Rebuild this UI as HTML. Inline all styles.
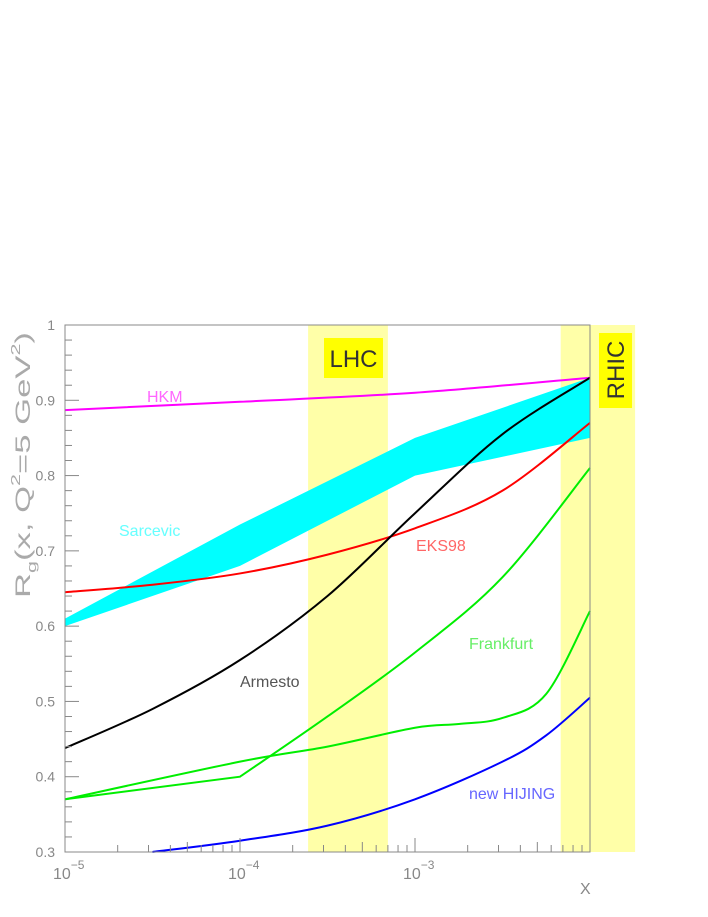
<!DOCTYPE html>
<html><head><meta charset="utf-8"><style>
html,body{margin:0;padding:0;background:#fff}
svg{display:block;font-family:"Liberation Sans",sans-serif}
</style></head><body>
<svg id="chart" width="708" height="917" viewBox="0 0 708 917" xmlns="http://www.w3.org/2000/svg">
<g id="bands"></g>
<g id="plot"></g>
<g id="axes"></g>
<g id="labels"></g>
</svg>
<script>
const yTicks=["0.3","0.4","0.5","0.6","0.7","0.8","0.9","1"];
const xTickExp=[-5,-4,-3];
const regions=["LHC","RHIC"];
const regionLo=[2.45e-4,6.8e-3];
const regionHi=[7.0e-4,0.0181];
const hkmX=[-5,-4,-3,-2];
const hkmY=[0.887,0.898,0.91,0.93];
const sarX=[-5,-4,-3,-2];
const sarUp=[0.61,0.735,0.85,0.93];
const sarLo=[0.60,0.68,0.80,0.85];
const eksX=[-5,-4.5,-4,-3.5,-3,-2.5,-2];
const eksY=[0.645,0.655,0.67,0.695,0.73,0.78,0.87];
const armX=[-5,-4.5,-4,-3.5,-3,-2.5,-2];
const armY=[0.438,0.49,0.555,0.64,0.75,0.855,0.93];
const fr1X=[-5,-4,-3.5,-3,-2.5,-2];
const fr1Y=[0.37,0.40,0.48,0.565,0.665,0.81];
const fr2X=[-5,-4,-3.5,-3,-2.75,-2.5,-2.25,-2];
const fr2Y=[0.37,0.42,0.44,0.465,0.47,0.478,0.51,0.62];
const hijX=[-4.5,-4,-3.5,-3,-2.5,-2.25,-2];
const hijY=[0.30,0.315,0.335,0.37,0.42,0.455,0.505];

const L=65,R=590,T=325,B=852;
const xs=lx=>L+(lx+5)/3*(R-L);
const ys=v=>B-(v-0.3)/0.7*(B-T);
const NS="http://www.w3.org/2000/svg";
function mk(tag,attrs,parent){const e=document.createElementNS(NS,tag);for(const k in attrs)e.setAttribute(k,attrs[k]);parent.appendChild(e);return e;}
const bands=document.getElementById('bands'),plot=document.getElementById('plot'),axes=document.getElementById('axes'),labels=document.getElementById('labels');

regions.forEach((r,i)=>{
  const x0=xs(Math.log10(regionLo[i])),x1=xs(Math.log10(regionHi[i]));
  const b=mk('rect',{x:x0,y:T,width:x1-x0,height:B-T,fill:'#ffffa8'},bands);
  
  
});
let g=mk('g',{},labels);


mk('rect',{x:324,y:338,width:59,height:40,fill:'#ffff00'},g);
let t=mk('text',{x:353.5,y:367,'text-anchor':'middle','font-size':'24',fill:'#333'},g);t.textContent='LHC';
g=mk('g',{},labels);


mk('rect',{x:599,y:333,width:33,height:75,fill:'#ffff00'},g);
t=mk('text',{x:624,y:370,'text-anchor':'middle','font-size':'24',fill:'#333',transform:'rotate(-90 624 370)'},g);t.textContent='RHIC';

let d='';
sarX.forEach((x,i)=>d+=(i?'L':'M')+xs(x)+','+ys(sarUp[i]));
for(let i=sarX.length-1;i>=0;i--)d+='L'+xs(sarX[i])+','+ys(sarLo[i]);
const sb=mk('path',{d:d+'Z',fill:'#00ffff'},plot);



function curve(X,Y,color,name,kink){
  const P=X.map((x,i)=>[xs(x),ys(Y[i])]);
  let d='M'+P[0][0]+','+P[0][1];
  for(let i=0;i<P.length-1;i++){
    if(kink!==undefined&&i<kink){d+='L'+P[i+1][0]+','+P[i+1][1];continue;}
    const p0=(i===kink?P[i]:P[i-1])||P[i],p1=P[i],p2=P[i+1],p3=P[i+2]||p2;
    d+='C'+(p1[0]+(p2[0]-p0[0])/6)+','+(p1[1]+(p2[1]-p0[1])/6)+' '+(p2[0]-(p3[0]-p1[0])/6)+','+(p2[1]-(p3[1]-p1[1])/6)+' '+p2[0]+','+p2[1];
  }
  const e=mk('path',{d:d,fill:'none',stroke:color,'stroke-width':2},plot);
  
  
}
curve(hkmX,hkmY,'#ff00ff','hkm-curve');
curve(eksX,eksY,'#ff0000','eks98-curve');
curve(armX,armY,'#000000','armesto-curve');
curve(fr1X,fr1Y,'#00ee00','frankfurt-curve-upper',1);
curve(fr2X,fr2Y,'#00ee00','frankfurt-curve-lower');
curve(hijX,hijY,'#0000ff','hijing-curve');

const fr=mk('rect',{x:L,y:T,width:R-L,height:B-T,fill:'none',stroke:'#888','stroke-width':1},axes);


for(let i=0;i<=35;i++){
  const v=0.3+i*0.02,y=ys(v),maj=i%5===0;
  mk('line',{x1:L,y1:y,x2:L+(maj?14:7),y2:y,stroke:'#888'},axes);
}
yTicks.forEach(s=>{
  const e=mk('text',{x:55,y:ys(parseFloat(s))+5,'text-anchor':'end','font-size':'14',fill:'#888'},axes);
  e.textContent=s;
  
  
});
for(let dec=-5;dec<-2;dec++){
  for(let m=1;m<=9;m++){
    const x=xs(dec+Math.log10(m));
    const len=m===1?14:(m===5?10:7);
    mk('line',{x1:x,y1:B,x2:x,y2:B-len,stroke:'#888'},axes);
  }
}
xTickExp.forEach(e=>{
  const tx=mk('text',{x:xs(e)-12,y:879,'font-size':'16',fill:'#888'},axes);
  
  
  tx.textContent='10';
  const sp=document.createElementNS(NS,'tspan');sp.setAttribute('dy','-10');sp.setAttribute('font-size','12');sp.textContent=String(e).replace('-','\u2212');tx.appendChild(sp);
});
t=mk('text',{x:580,y:894,'font-size':'16',fill:'#888'},axes);t.textContent='X';


t=mk('text',{x:0,y:0,'font-size':'21',fill:'#aaa',transform:'translate(30,598) rotate(-90)',textLength:'266',lengthAdjust:'spacingAndGlyphs'},axes);


t.innerHTML='R<tspan font-size="13" dy="6">g</tspan><tspan dy="-6">(x, Q</tspan><tspan font-size="13" dy="-10">2</tspan><tspan dy="10">=5 GeV</tspan><tspan font-size="13" dy="-10">2</tspan><tspan dy="10">)</tspan>';

const labs=[['HKM',147,402,'#ff66ff'],['Sarcevic',119,536,'#66ffff'],['EKS98',416,551,'#ff6666'],['Frankfurt',469,649,'#66ee66'],['Armesto',240,687,'#555'],['new HIJING',469,799,'#6666ff']];
labs.forEach(l=>{
  const e=mk('text',{x:l[1],y:l[2],'font-size':'16',fill:l[3]},labels);
  e.textContent=l[0];
  
  
});
</script>
</body></html>
